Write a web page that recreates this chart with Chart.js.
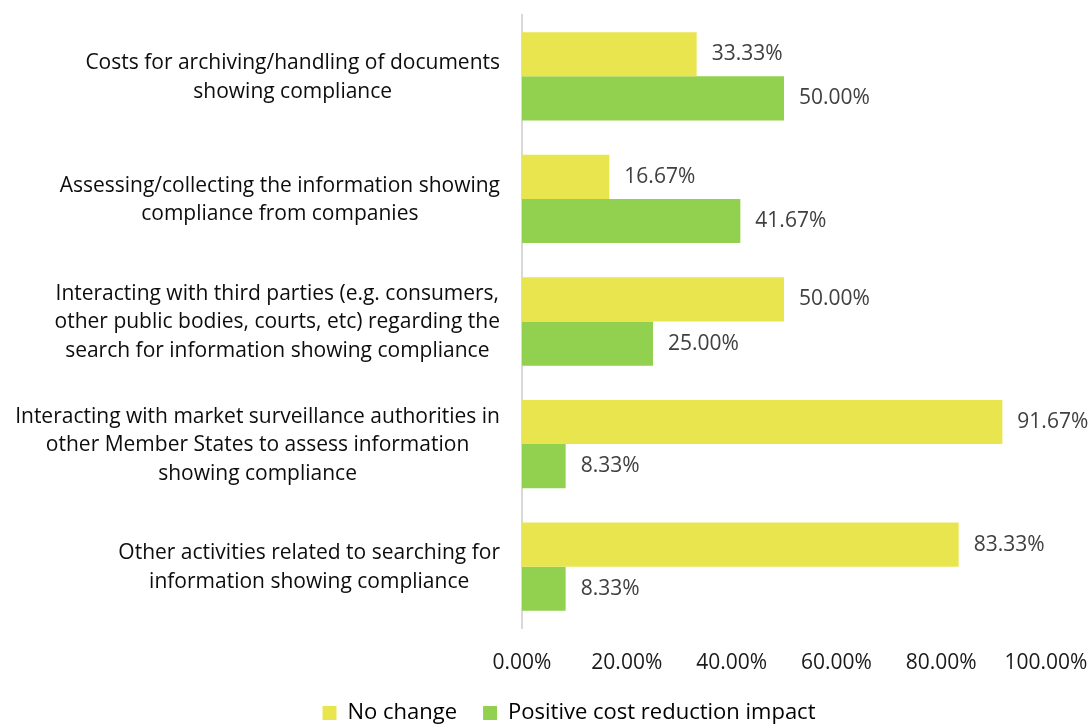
<!DOCTYPE html>
<html>
<head>
<meta charset="utf-8">
<script src="https://cdn.jsdelivr.net/npm/chart.js@4/dist/chart.umd.min.js"></script>
<style>
  html, body { margin: 0; padding: 0; background: #fff; }
  #wrap { width: 1092px; height: 724px; }
</style>
</head>
<body>
<div id="wrap"><canvas id="chart" width="1092" height="724"></canvas></div>
<script>
const categories = [
  ['Costs for archiving/handling of documents', 'showing compliance'],
  ['Assessing/collecting the information showing', 'compliance from companies'],
  ['Interacting with third parties (e.g. consumers,', 'other public bodies, courts, etc) regarding the', 'search for information showing compliance'],
  ['Interacting with market surveillance authorities in', 'other Member States to assess information', 'showing compliance'],
  ['Other activities related to searching for', 'information showing compliance']
];
const noChange = [33.33, 16.67, 50.00, 91.67, 83.33];
const positiveImpact = [50.00, 41.67, 25.00, 8.33, 8.33];
const xTicks = [0, 20, 40, 60, 80, 100];

const FONT = '"Open Sans", Lato, sans-serif';
const PAD_LEFT = 92;

// category labels, each block centred on itself and right-aligned to the axis
const catLabels = {
  id: 'catLabels',
  afterDraw(chart) {
    const ctx = chart.ctx;
    const y = chart.scales.y;
    ctx.save();
    ctx.font = '21px ' + FONT;
    ctx.fillStyle = '#0d0d0d';
    ctx.textAlign = 'center';
    ctx.textBaseline = 'middle';
    const lh = 28.5;
    categories.forEach((lines, i) => {
      const cy = y.getPixelForTick(i) + 1;
      const w = Math.max(...lines.map(l => ctx.measureText(l).width));
      const cx = 500 - w / 2;
      const top = cy - (lines.length - 1) * lh / 2;
      lines.forEach((l, j) => ctx.fillText(l, cx, top + j * lh));
    });
    ctx.restore();
  }
};

// value labels at the end of each bar
const valueLabels = {
  id: 'valueLabels',
  afterDatasetsDraw(chart) {
    const ctx = chart.ctx;
    ctx.save();
    ctx.font = '21px ' + FONT;
    ctx.fillStyle = '#404040';
    ctx.textAlign = 'left';
    ctx.textBaseline = 'middle';
    chart.data.datasets.forEach((ds, di) => {
      chart.getDatasetMeta(di).data.forEach((bar, i) => {
        ctx.fillText(ds.data[i].toFixed(2) + '%', bar.x + 15, bar.y);
      });
    });
    ctx.restore();
  }
};

new Chart(document.getElementById('chart'), {
  type: 'bar',
  data: {
    labels: categories,
    datasets: [
      {
        label: 'No change',
        data: noChange,
        backgroundColor: '#E8E54F',
        barPercentage: 1,
        categoryPercentage: 0.72
      },
      {
        label: 'Positive cost reduction impact',
        data: positiveImpact,
        backgroundColor: '#92D050',
        barPercentage: 1,
        categoryPercentage: 0.72
      }
    ]
  },
  options: {
    indexAxis: 'y',
    responsive: false,
    animation: false,
    layout: { padding: { top: 15, right: 46, bottom: -10, left: PAD_LEFT } },
    plugins: {
      tooltip: { enabled: false },
      legend: {
        position: 'bottom',
        labels: {
          boxWidth: 14,
          boxHeight: 14,
          padding: 26,
          color: '#000',
          font: { family: FONT, size: 22 }
        }
      }
    },
    scales: {
      x: {
        min: 0,
        max: 100,
        afterBuildTicks: s => { s.ticks = xTicks.map(v => ({ value: v })); },
        afterFit: s => { s.height = 48; s.paddingLeft = 0; s.paddingRight = 0; },
        grid: { display: false, drawTicks: false },
        border: { display: false },
        ticks: {
          padding: 22,
          color: '#1a1a1a',
          font: { family: FONT, size: 21 },
          callback: v => v.toFixed(2) + '%'
        }
      },
      y: {
        afterFit: s => { s.width = 522 - PAD_LEFT; },
        grid: { color: 'transparent', drawTicks: false },
        border: { display: true, color: '#D9D9D9', width: 2 },
        ticks: { display: false }
      }
    }
  },
  plugins: [catLabels, valueLabels]
});
</script>
</body>
</html>
